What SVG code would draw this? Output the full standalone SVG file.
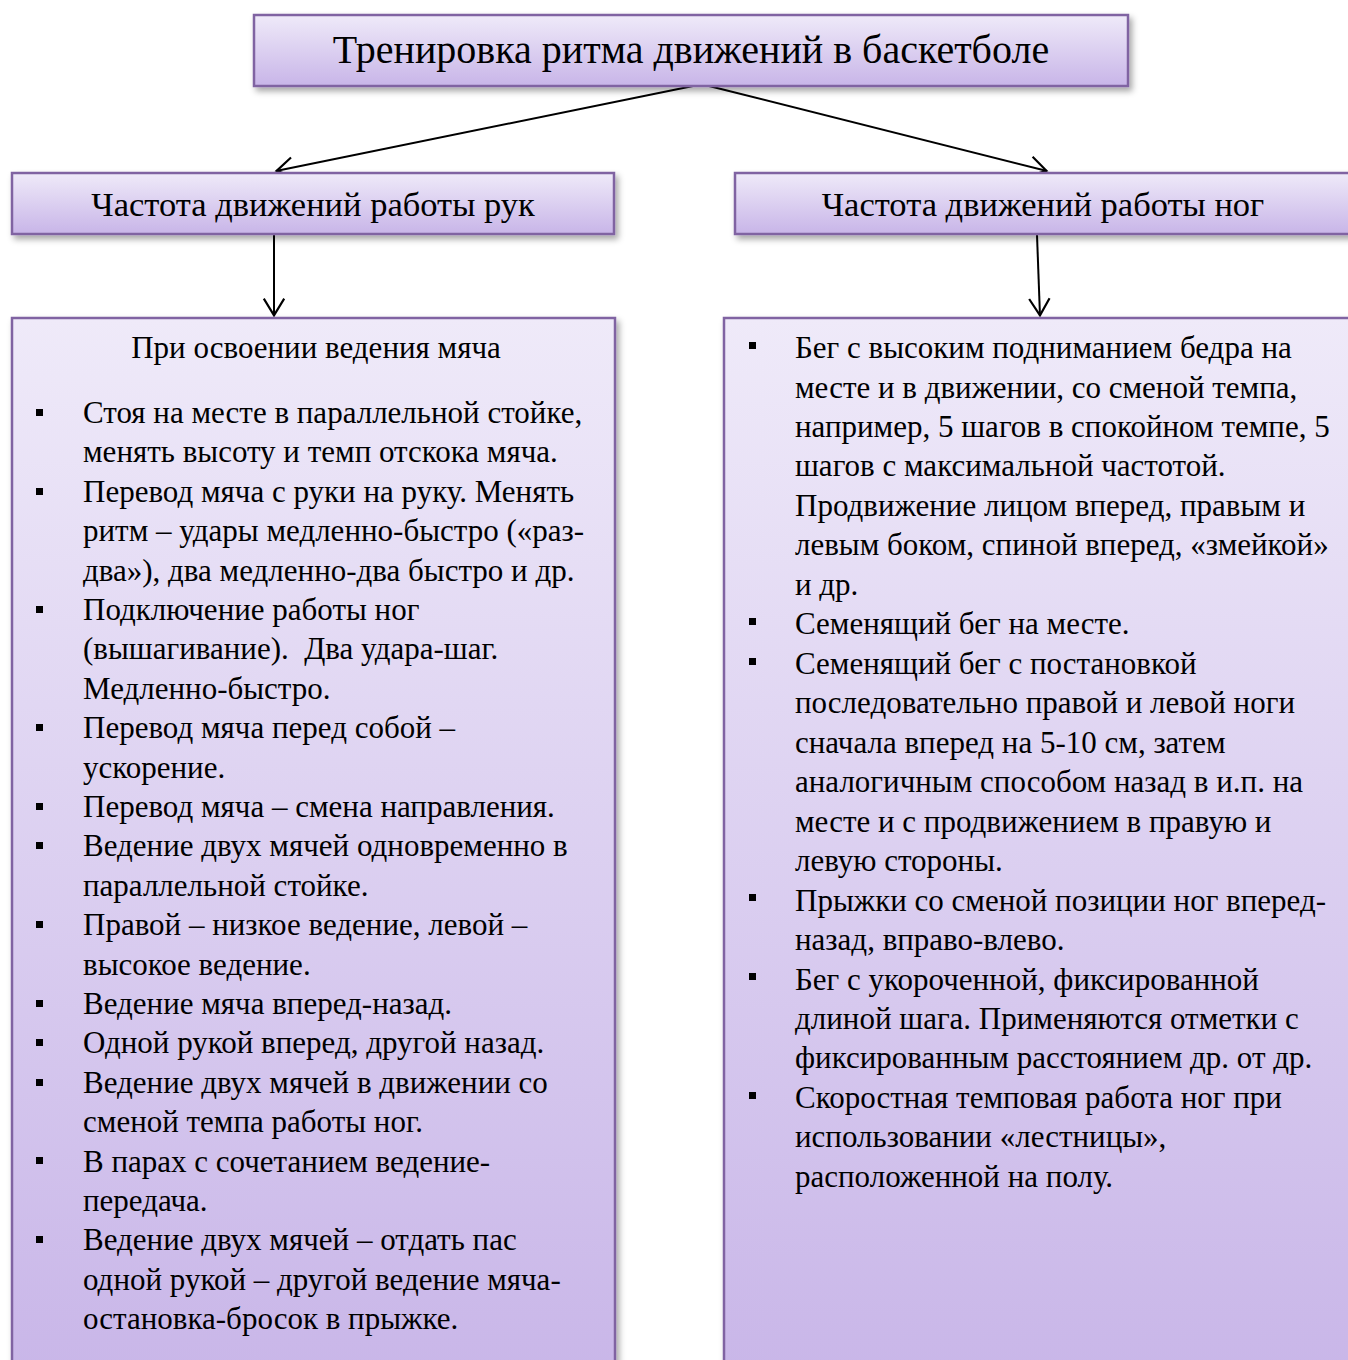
<svg xmlns="http://www.w3.org/2000/svg" width="1348" height="1360" viewBox="0 0 1348 1360">
<defs>
<linearGradient id="g" x1="0" y1="0" x2="0" y2="1">
<stop offset="0" stop-color="#EFEAF9"/>
<stop offset="1" stop-color="#C8B5E8"/>
</linearGradient>
<filter id="sh" x="-5%" y="-5%" width="115%" height="130%">
<feDropShadow dx="3" dy="4" stdDeviation="3" flood-color="#000" flood-opacity="0.35"/>
</filter>
<marker id="arr" viewBox="0 0 20 20" refX="18.5" refY="10" markerWidth="24" markerHeight="24" markerUnits="userSpaceOnUse" orient="auto">
<path d="M4,1.5 L18,10 L4,18.5" fill="none" stroke="#000" stroke-width="1.8"/>
</marker>
</defs>
<style>
.box{fill:url(#g);stroke:#8064A2;stroke-width:2.5;filter:url(#sh)}
.t{font-family:"Liberation Serif","DejaVu Serif",serif;fill:#000}
.title{font-size:40px}
.sub{font-size:34.5px}
.body{font-size:31px}
.conn{stroke:#000;stroke-width:2;fill:none;marker-end:url(#arr)}
.b{fill:#000}
</style>
<rect width="1348" height="1360" fill="#fff"/>

<g id="connectors">
<line class="conn" x1="693" y1="86" x2="276" y2="171"/>
<line class="conn" x1="709" y1="86" x2="1047" y2="171"/>
<line class="conn" x1="274" y1="235" x2="274" y2="316"/>
<line class="conn" x1="1037" y1="235" x2="1040" y2="316"/>
</g>

<g id="node-top">
<rect class="box" x="254" y="15" width="874" height="71"/>
<text class="t title" x="691" y="63" text-anchor="middle">Тренировка ритма движений в баскетболе</text>
</g>

<g id="node-hands">
<rect class="box" x="12" y="173" width="602" height="61"/>
<text class="t sub" x="313" y="216" text-anchor="middle">Частота движений работы рук</text>
</g>

<g id="node-legs">
<rect class="box" x="735" y="173" width="640" height="61"/>
<text class="t sub" x="1043" y="216" text-anchor="middle">Частота движений работы ног</text>
</g>

<g id="node-hands-list">
<rect class="box" x="12" y="318" width="603" height="1080"/>
<text class="t body" x="316" y="358" text-anchor="middle">При освоении ведения мяча</text>
<g class="b">
<rect x="36" y="409" width="7" height="7"/>
<rect x="36" y="488" width="7" height="7"/>
<rect x="36" y="606" width="7" height="7"/>
<rect x="36" y="724" width="7" height="7"/>
<rect x="36" y="803" width="7" height="7"/>
<rect x="36" y="842" width="7" height="7"/>
<rect x="36" y="921" width="7" height="7"/>
<rect x="36" y="1000" width="7" height="7"/>
<rect x="36" y="1039" width="7" height="7"/>
<rect x="36" y="1079" width="7" height="7"/>
<rect x="36" y="1157" width="7" height="7"/>
<rect x="36" y="1236" width="7" height="7"/>
</g>
<text class="t body" xml:space="preserve">
<tspan x="83" y="423">Стоя на месте в параллельной стойке,</tspan>
<tspan x="83" y="462.4">менять высоту и темп отскока мяча.</tspan>
<tspan x="83" y="501.8">Перевод мяча с руки на руку. Менять</tspan>
<tspan x="83" y="541.2">ритм – удары медленно-быстро («раз-</tspan>
<tspan x="83" y="580.6">два»), два медленно-два быстро и др.</tspan>
<tspan x="83" y="620">Подключение работы ног</tspan>
<tspan x="83" y="659.4">(вышагивание).  Два удара-шаг.</tspan>
<tspan x="83" y="698.8">Медленно-быстро.</tspan>
<tspan x="83" y="738.2">Перевод мяча перед собой –</tspan>
<tspan x="83" y="777.6">ускорение.</tspan>
<tspan x="83" y="817">Перевод мяча – смена направления.</tspan>
<tspan x="83" y="856.4">Ведение двух мячей одновременно в</tspan>
<tspan x="83" y="895.8">параллельной стойке.</tspan>
<tspan x="83" y="935.2">Правой – низкое ведение, левой –</tspan>
<tspan x="83" y="974.6">высокое ведение.</tspan>
<tspan x="83" y="1014">Ведение мяча вперед-назад.</tspan>
<tspan x="83" y="1053.4">Одной рукой вперед, другой назад.</tspan>
<tspan x="83" y="1092.8">Ведение двух мячей в движении со</tspan>
<tspan x="83" y="1132.2">сменой темпа работы ног.</tspan>
<tspan x="83" y="1171.6">В парах с сочетанием ведение-</tspan>
<tspan x="83" y="1211">передача.</tspan>
<tspan x="83" y="1250.4">Ведение двух мячей – отдать пас</tspan>
<tspan x="83" y="1289.8">одной рукой – другой ведение мяча-</tspan>
<tspan x="83" y="1329.2">остановка-бросок в прыжке.</tspan>
</text>
</g>

<g id="node-legs-list">
<rect class="box" x="724" y="318" width="650" height="1080"/>
<g class="b">
<rect x="749" y="342" width="7" height="7"/>
<rect x="749" y="618" width="7" height="7"/>
<rect x="749" y="658" width="7" height="7"/>
<rect x="749" y="894" width="7" height="7"/>
<rect x="749" y="973" width="7" height="7"/>
<rect x="749" y="1092" width="7" height="7"/>
</g>
<text class="t body">
<tspan x="795" y="358">Бег с высоким подниманием бедра на</tspan>
<tspan x="795" y="397.5">месте и в движении, со сменой темпа,</tspan>
<tspan x="795" y="436.9">например, 5 шагов в спокойном темпе, 5</tspan>
<tspan x="795" y="476.4">шагов с максимальной частотой.</tspan>
<tspan x="795" y="515.9">Продвижение лицом вперед, правым и</tspan>
<tspan x="795" y="555.4">левым боком, спиной вперед, «змейкой»</tspan>
<tspan x="795" y="594.8">и др.</tspan>
<tspan x="795" y="634.3">Семенящий бег на месте.</tspan>
<tspan x="795" y="673.8">Семенящий бег с постановкой</tspan>
<tspan x="795" y="713.2">последовательно правой и левой ноги</tspan>
<tspan x="795" y="752.7">сначала вперед на 5-10 см, затем</tspan>
<tspan x="795" y="792.2">аналогичным способом назад в и.п. на</tspan>
<tspan x="795" y="831.6">месте и с продвижением в правую и</tspan>
<tspan x="795" y="871.1">левую стороны.</tspan>
<tspan x="795" y="910.6">Прыжки со сменой позиции ног вперед-</tspan>
<tspan x="795" y="950">назад, вправо-влево.</tspan>
<tspan x="795" y="989.5">Бег с укороченной, фиксированной</tspan>
<tspan x="795" y="1029">длиной шага. Применяются отметки с</tspan>
<tspan x="795" y="1068.4">фиксированным расстоянием др. от др.</tspan>
<tspan x="795" y="1107.9">Скоростная темповая работа ног при</tspan>
<tspan x="795" y="1147.4">использовании «лестницы»,</tspan>
<tspan x="795" y="1186.8">расположенной на полу.</tspan>
</text>
</g>
</svg>
